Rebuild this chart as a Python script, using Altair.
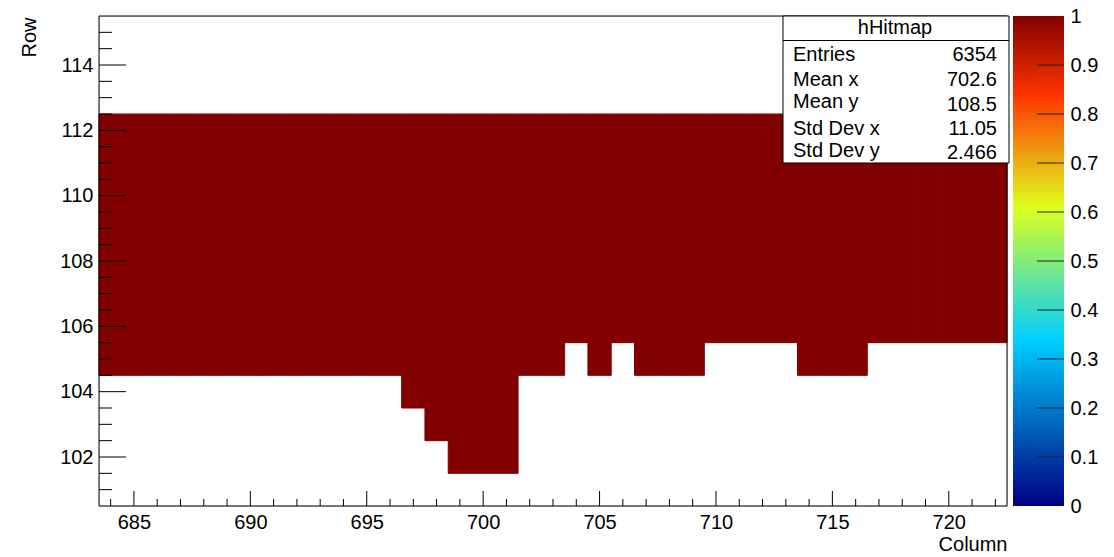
import altair as alt
import pandas as pd

# ---------------- data ----------------
columns = [684, 685, 686, 687, 688, 689, 690, 691, 692, 693, 694, 695, 696,
           697, 698, 699, 700, 701, 702, 703, 704, 705, 706, 707, 708, 709,
           710, 711, 712, 713, 714, 715, 716, 717, 718, 719, 720, 721, 722]
bottom_row = [105, 105, 105, 105, 105, 105, 105, 105, 105, 105, 105, 105, 105,
              104, 103, 102, 102, 102, 105, 105, 106, 105, 106, 105, 105, 105,
              106, 106, 106, 106, 105, 105, 105, 106, 106, 106, 106, 106, 106]
top_row = 112
cell_value = 1.0

x_range = [683.5, 722.5]
y_range = [100.5, 115.5]
x_major_ticks = [685, 690, 695, 700, 705, 710, 715, 720]
x_minor_ticks = [c for c in range(684, 723) if c % 5 != 0]
y_major_ticks = [102, 104, 106, 108, 110, 112, 114]
y_minor_ticks = [v / 2 for v in range(202, 231) if v % 4 != 0]

palette_stops = [0.0, 0.34, 0.61, 0.84, 1.0]
palette_colors = ["#000082", "#00cfff", "#deff1f", "#ff3300", "#820000"]
cb_range = [0.0, 1.0]
cb_labels = [0, 0.1, 0.2, 0.3, 0.4, 0.5, 0.6, 0.7, 0.8, 0.9, 1]
cb_inner_ticks = [0.1, 0.2, 0.3, 0.4, 0.5, 0.6, 0.7, 0.8, 0.9]

stat_title = "hHitmap"
stat_labels = ["Entries", "Mean x", "Mean y", "Std Dev x", "Std Dev y"]
stat_values = ["6354", "702.6", "108.5", "11.05", "2.466"]

FONT = "Liberation Sans"
FS = 20
W, H = 908, 490

# ---------------- build tables ----------------
# every filled cell of a column holds the same content (1), so each column
# is drawn as one block spanning its filled rows
blocks = []
for c, b in zip(columns, bottom_row):
    blocks.append({"x0": c - 0.5, "x1": c + 0.5, "y0": b - 0.5, "y1": top_row + 0.5, "v": cell_value})
blocks_df = pd.DataFrame(blocks)


def xs():
    return alt.Scale(domain=x_range, nice=False, zero=False)


def ys():
    return alt.Scale(domain=y_range, nice=False, zero=False)


def cbs():
    return alt.Scale(domain=cb_range, nice=False, zero=False)


cs = alt.Scale(domain=palette_stops, range=palette_colors, interpolate="rgb")

heat = alt.Chart(blocks_df).mark_rect(strokeWidth=1).encode(
    x=alt.X("x0:Q", scale=xs(), axis=alt.Axis(
        values=x_major_ticks, ticks=False, domain=False, grid=False,
        labelPadding=6, labelFontSize=FS, labelFlush=False, labelOverlap=False,
        title="Column", titleFontSize=FS, titleFontWeight="normal", titleX=W, titleY=44,
        titleAlign="right", titleBaseline="alphabetic", orient="bottom", zindex=2)),
    x2="x1:Q",
    y=alt.Y("y0:Q", scale=ys(), axis=alt.Axis(
        values=y_major_ticks, ticks=False, domain=False, grid=False,
        labelPadding=6, labelFontSize=FS, labelFlush=False, labelOverlap=False,
        title="Row", titleFontSize=FS, titleFontWeight="normal", titleX=-64, titleY=1,
        titleAngle=270, titleAlign="right", titleBaseline="alphabetic", orient="left",
        zindex=2)),
    y2="y1:Q",
    fill=alt.Fill("v:Q", scale=cs, legend=None),
    stroke=alt.Stroke("v:Q", scale=cs, legend=None),
)


def xticks(vals, length):
    return alt.Chart(pd.DataFrame({"t": vals})).mark_rule(color="black", strokeWidth=1).encode(
        x=alt.X("t:Q", scale=xs(), axis=None),
        y=alt.value(H), y2=alt.value(H - length))


def yticks(vals, length):
    return alt.Chart(pd.DataFrame({"t": vals})).mark_rule(color="black", strokeWidth=1).encode(
        y=alt.Y("t:Q", scale=ys(), axis=None),
        x=alt.value(0), x2=alt.value(length))


one = pd.DataFrame({"a": [0]})
frame = alt.Chart(one).mark_rect(fillOpacity=0, stroke="black", strokeWidth=1).encode(
    x=alt.value(0), x2=alt.value(W), y=alt.value(0), y2=alt.value(H))

# ---------------- colour bar ----------------
grad = alt.Gradient(
    gradient="linear",
    stops=[alt.GradientStop(offset=o, color=c) for o, c in zip(palette_stops, palette_colors)],
    x1=0, x2=0, y1=1, y2=0)
cb_rect = alt.Chart(pd.DataFrame({"lo": [cb_range[0]], "hi": [cb_range[1]]})).mark_rect(
    fill=grad).encode(
    x=alt.value(914), x2=alt.value(965),
    y=alt.Y("lo:Q", scale=cbs(), axis=alt.Axis(
        orient="right", offset=57, values=cb_labels, format="~g", ticks=False,
        domain=False, grid=False, labelPadding=6, labelFontSize=FS, labelFlush=False,
        labelOverlap=False, title="", zindex=2)),
    y2="hi:Q")
cb_ticks = alt.Chart(pd.DataFrame({"t": cb_inner_ticks})).mark_rule(
    color="#222222", strokeWidth=1).encode(
    y=alt.Y("t:Q", scale=cbs(), axis=None),
    x=alt.value(938), x2=alt.value(965))

# ---------------- stats box ----------------
box = alt.Chart(one).mark_rect(fill="white", stroke="black", strokeWidth=1).encode(
    x=alt.value(684), x2=alt.value(910), y=alt.value(0), y2=alt.value(147))
sep = alt.Chart(one).mark_rule(color="black", strokeWidth=1).encode(
    x=alt.value(684), x2=alt.value(910), y=alt.value(24.5))
title_txt = alt.Chart(pd.DataFrame({"t": [stat_title]})).mark_text(
    font=FONT, fontSize=FS, align="center", baseline="alphabetic", color="black").encode(
    x=alt.value(796), y=alt.value(17.5), text="t:N")

label_y = [44.8, 70.3, 92.3, 118.8, 141.3]
value_y = [44.8, 70.3, 94.8, 118.8, 142.8]
stat_layers = [box, sep, title_txt]
for lab, val, ly, vy in zip(stat_labels, stat_values, label_y, value_y):
    stat_layers.append(alt.Chart(pd.DataFrame({"t": [lab]})).mark_text(
        font=FONT, fontSize=FS, align="left", baseline="alphabetic", color="black").encode(
        x=alt.value(694), y=alt.value(ly), text="t:N"))
    stat_layers.append(alt.Chart(pd.DataFrame({"t": [val]})).mark_text(
        font=FONT, fontSize=FS, align="right", baseline="alphabetic", color="black").encode(
        x=alt.value(898), y=alt.value(vy), text="t:N"))

layers = [heat, xticks(x_major_ticks, 15), xticks(x_minor_ticks, 7),
          yticks(y_major_ticks, 27), yticks(y_minor_ticks, 13), frame,
          cb_rect, cb_ticks] + stat_layers

chart = alt.layer(*layers).resolve_scale(x="independent", y="independent").properties(
    width=W, height=H,
    autosize=alt.AutoSizeParams(type="none"),
    padding={"left": 99, "top": 16, "right": 107, "bottom": 51},
    background="white",
).configure_view(strokeWidth=0).configure_axis(
    labelFont=FONT, titleFont=FONT, labelColor="black", titleColor="black",
    titleFontWeight="normal",
).configure(font=FONT)

chart.save("out.html", embed_options={"renderer": "svg", "actions": False})
